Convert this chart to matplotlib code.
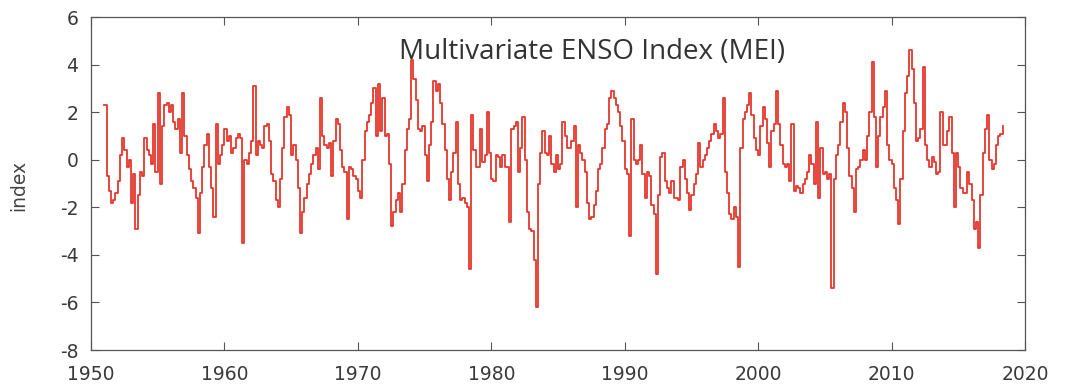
import numpy as np
import matplotlib.pyplot as plt

plt.rcParams["axes.unicode_minus"] = False

# Bi-monthly index values, one row of six per year (Jan/Feb ... Nov/Dec)
mei_1950s = [
    [2.3, -0.7, -1.3, -1.8, -1.7, -1.4],   # 1951
    [-0.9, 0.2, 0.9, 0.4, -0.3, 0.0],      # 1952
    [-1.8, -0.6, -2.9, -1.5, -0.5, -0.7],  # 1953
    [0.9, 0.4, 0.2, -0.2, 1.5, -0.5],      # 1954
    [2.8, -1.0, 1.4, 2.3, 2.4, 2.0],       # 1955
    [2.3, 1.6, 1.3, 1.7, 0.3, 2.8],        # 1956
    [1.0, 0.2, -0.4, -0.9, -1.2, -1.6],    # 1957
    [-3.1, -1.4, -0.3, 0.6, 1.1, -0.3],    # 1958
    [-1.2, -2.4, 1.5, -0.2, 0.2, 0.6],     # 1959
]
mei_1960s = [
    [1.3, 0.8, 1.0, 0.3, 0.5, 0.9],
    [1.1, 0.9, -3.5, 0.0, -0.2, 0.3],
    [0.8, 3.1, 0.2, 0.8, 0.6, 0.5],
    [1.4, 1.5, 0.8, -0.6, -0.9, -1.7],
    [-2.0, -0.8, 0.5, 1.8, 2.2, 1.9],
    [0.2, 0.6, 0.0, -1.2, -3.1, -2.2],
    [-1.6, -1.0, -0.6, -0.2, 0.2, 0.5],
    [-0.4, 2.6, 1.0, 0.6, 0.5, 0.7],
    [-0.7, 0.8, 1.7, 1.5, 0.4, -0.3],
    [-0.5, -2.5, -0.3, -0.4, -0.7, -0.8],
]
mei_1970s = [
    [-1.3, -1.6, 0.0, 1.2, 1.6, 1.9],
    [2.4, 3.0, 1.0, 3.2, 1.2, 2.6],
    [1.0, 1.1, -0.2, -2.8, -2.2, -1.7],
    [-1.4, -2.2, -1.0, 0.4, 1.3, 1.7],
    [4.2, 3.4, 2.5, 1.3, 1.2, 1.4],
    [0.2, -0.9, 0.6, 1.6, 3.3, 2.9],
    [3.2, 2.4, 1.5, 0.4, -0.8, -1.7],
    [-0.5, 0.3, 1.6, -1.0, -1.7, -1.6],
    [-1.8, -2.0, -4.6, 1.9, 0.4, -0.3],
    [-0.3, 1.3, -0.1, 0.2, 2.0, 0.3],
]
mei_1980s = [
    [-0.8, -0.9, 0.2, 0.1, -0.3, 0.2],
    [-0.3, -0.3, -2.6, 1.3, 1.4, 1.6],
    [-0.5, 0.5, 1.8, 0.0, -2.2, -2.9],
    [-3.0, -4.2, -6.2, -1.0, 0.3, 1.2],
    [0.3, 0.2, 1.0, -0.2, -0.5, 0.2],
    [-0.4, -0.2, 1.6, 1.0, 0.5, 0.5],
    [0.8, 1.4, -2.0, 0.6, 0.3, 0.0],
    [-0.5, -1.8, -2.5, -2.4, -1.9, -1.3],
    [-0.4, -0.2, 0.5, 1.3, 1.5, 2.6],
    [2.9, 2.6, 2.3, 2.0, 1.4, 0.8],
]
mei_1990s = [
    [-0.4, -0.6, -3.2, 1.7, 0.0, -0.2],
    [0.0, 0.6, -0.6, -1.6, -0.5, -0.7],
    [-1.9, -2.3, -4.8, -1.5, 0.1, 0.3],
    [-0.9, -1.2, -1.4, -0.9, -1.6, -1.6],
    [-1.7, -0.3, 0.0, -0.8, -1.4, -2.1],
    [-1.5, -1.0, -0.6, 0.7, -0.3, 0.0],
    [0.2, 0.5, 0.8, 1.1, 1.5, 1.2],
    [0.9, 1.1, 2.6, -0.5, -1.4, -2.3],
    [-2.5, -2.0, -2.4, -4.5, 0.5, 1.7],
    [2.0, 2.3, 2.8, 1.9, 0.9, 0.4],
]
mei_2000s = [
    [0.2, 1.4, 2.2, 1.7, 0.7, -0.3],
    [1.2, 1.5, 2.9, 1.5, 0.6, -0.2],
    [-0.3, -0.2, -0.9, 1.5, -1.3, -1.1],
    [-1.2, -1.4, -1.0, -0.8, -0.5, 0.2],
    [-0.2, -1.0, 1.6, -1.6, 0.5, -0.6],
    [-0.5, -0.8, -0.6, -5.4, -0.8, 0.2],
    [0.6, 1.6, 2.4, 2.0, 0.5, -0.7],
    [-1.2, -2.2, -0.4, -0.3, 0.0, 0.4],
    [0.0, 1.0, 2.0, 4.1, 1.8, -0.3],
    [1.0, 1.8, 2.2, 2.9, 0.6, 0.0],
]
mei_2010s = [
    [-0.2, -1.2, -1.7, -2.7, -0.8, 1.2],
    [2.8, 3.5, 4.6, 3.8, 2.4, 0.8],
    [0.9, 1.3, 3.9, 0.6, 0.0, -0.3],
    [0.1, -0.1, -0.6, -0.5, 2.0, 0.6],
    [0.6, 1.2, 1.8, 0.3, -2.0, 0.3],
    [-0.3, -1.2, -1.4, -1.4, -0.5, -1.0],
    [-1.7, -2.9, -2.6, -3.7, -1.5, 0.3],
    [1.3, 1.9, 0.0, -0.4, -0.2, 0.6],
    [1.0, 1.1, 1.4],
]

start_year = 1951
x_ticks = [1950, 1960, 1970, 1980, 1990, 2000, 2010, 2020]
y_ticks = [-8, -6, -4, -2, 0, 2, 4, 6]

values = []
for decade in [mei_1950s, mei_1960s, mei_1970s, mei_1980s, mei_1990s, mei_2000s, mei_2010s]:
    for row in decade:
        values.extend(row)
values = np.array(values)
t = start_year + np.arange(len(values)) / 6.0

fig = plt.figure(figsize=(10.68, 3.87), dpi=100)
ax = fig.add_axes([0.0852, 0.0956, 0.8745, 0.8604])

ax.step(t, values, where="post", color="#e5372c", lw=1.3)

ax.set_xlim(1950, 2020)
ax.set_ylim(-8, 6)
ax.set_xticks(x_ticks)
ax.set_yticks(y_ticks)
ax.tick_params(direction="in", length=6, width=0.8, colors="#555555",
               labelcolor="#3a3a3a", labelsize=13.5, top=True, right=True)
ax.tick_params(axis="y", pad=9)
ax.tick_params(axis="x", pad=11)
for s in ax.spines.values():
    s.set_color("#555555")
    s.set_linewidth(0.9)

ax.set_ylabel("index", fontsize=13.5, color="#444444")
ax.yaxis.set_label_coords(-0.0675, 0.495)
ax.text(0.536, 0.895, "Multivariate ENSO Index (MEI)", transform=ax.transAxes,
        ha="center", va="center", fontsize=20, color="#333333",
        family="Open Sans")

fig.savefig("out.png", dpi=100)
